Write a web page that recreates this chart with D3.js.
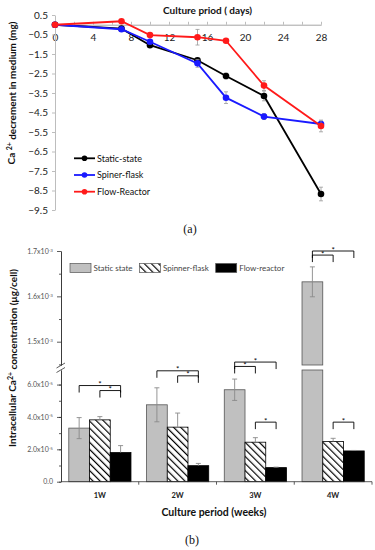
<!DOCTYPE html>
<html>
<head>
<meta charset="utf-8">
<script src="https://cdnjs.cloudflare.com/ajax/libs/d3/7.8.5/d3.min.js"></script>
<style>
  body { margin: 0; background: #fff; }
  svg { display: block; font-family: Lato, "Open Sans", sans-serif; }
</style>
</head>
<body>
<div id="chart"></div>
<script>
// ---- (a) Ca2+ decrement in medium ----
var days = [0, 7, 10, 15, 18, 22, 28];
var dayTicks = [0, 4, 8, 12, 16, 20, 24, 28];
var decTicks = [0.5, -0.5, -1.5, -2.5, -3.5, -4.5, -5.5, -6.5, -7.5, -8.5, -9.5];
var staticState = [0, -0.2, -1.05, -1.82, -2.63, -3.65, -8.68];
var staticStateErr = [0, 0.05, 0.1, 0.1, 0.15, 0.25, 0.35];
var spinerFlask = [0, -0.23, -0.87, -1.98, -3.74, -4.71, -5.09];
var spinerFlaskErr = [0, 0.05, 0.1, 0.2, 0.3, 0.15, 0.15];
var flowReactor = [0, 0.18, -0.53, -0.64, -0.82, -3.12, -5.19];
var flowReactorErr = [0, 0.05, 0.1, 0.4, 0.05, 0.25, 0.3];
var seriesNames = ["Static-state", "Spiner-flask", "Flow-Reactor"];
var seriesColors = ["#000000", "#1a1aff", "#ff1a1a"];

// ---- (b) intracellular Ca2+ ----
var weeks = ["1W", "2W", "3W", "4W"];
var groups = ["static", "spinner", "flow"];
var groupNames = ["Static state", "Spinner-flask", "Flow-reactor"];
var staticMean = [3.31e-5, 4.75e-5, 5.68e-5, 1.632e-3];
var staticErr = [0.65e-5, 1.05e-5, 0.66e-5, 0.033e-3];
var spinnerMean = [3.82e-5, 3.37e-5, 2.44e-5, 2.48e-5];
var spinnerErr = [0.2e-5, 0.87e-5, 0.28e-5, 0.2e-5];
var flowMean = [1.80e-5, 0.99e-5, 0.87e-5, 1.90e-5];
var flowErr = [0.43e-5, 0.14e-5, 0.03e-5, 0.03e-5];
var lowTicks = [0, 2e-5, 4e-5, 6e-5];
var lowTickLabels = ["0.0", "2.0x10", "4.0x10", "6.0x10"];
var highTicks = [1.5e-3, 1.6e-3, 1.7e-3];
var highTickLabels = ["1.5x10", "1.6x10", "1.7x10"];
// significance brackets: week, bars compared, bracket height
var brackets = [
  { week: "1W", from: "static", to: "flow", level: 5.94e-5, seg: "low" },
  { week: "1W", from: "spinner", to: "flow", level: 5.63e-5, seg: "low" },
  { week: "2W", from: "static", to: "flow", level: 6.85e-5, seg: "low" },
  { week: "2W", from: "spinner", to: "flow", level: 6.54e-5, seg: "low" },
  { week: "3W", from: "static", to: "flow", level: 7.39e-5, seg: "low" },
  { week: "3W", from: "static", to: "spinner", level: 7.12e-5, seg: "low" },
  { week: "3W", from: "spinner", to: "flow", level: 3.68e-5, seg: "low" },
  { week: "4W", from: "static", to: "flow", level: 1.7e-3, seg: "high" },
  { week: "4W", from: "static", to: "spinner", level: 1.691e-3, seg: "high" },
  { week: "4W", from: "spinner", to: "flow", level: 3.68e-5, seg: "low" }
];

var svg = d3.select("#chart")
  .append("svg")
  .attr("width", 375)
  .attr("height", 550);

var axisColor = "#bdbdbd";

// ================= chart (a) =================
var x = d3.scaleLinear().domain([0, 28]).range([55, 321]);
var y = d3.scaleLinear().domain([-9.5, 0.5]).range([210, 15]);

var ga = svg.append("g");

// minor ticks on top of x axis
ga.append("g")
  .attr("transform", "translate(0," + y(0) + ")")
  .call(d3.axisTop(x).tickValues(d3.range(0, 29, 2)).tickSize(3).tickSizeOuter(0).tickFormat(""))
  .call(function(g) { g.selectAll("line,path").attr("stroke", axisColor); });

var xAxisA = ga.append("g")
  .attr("transform", "translate(0," + y(0) + ")")
  .call(d3.axisBottom(x).tickValues(dayTicks).tickSize(0).tickPadding(9));
xAxisA.select(".domain").attr("stroke", axisColor);
xAxisA.selectAll("text").attr("font-size", 10).attr("fill", "#222").attr("font-family", "Lato");

var yAxisA = ga.append("g")
  .attr("transform", "translate(" + x(0) + ",0)")
  .call(d3.axisLeft(y).tickValues(decTicks).tickSize(3).tickSizeOuter(0).tickPadding(4).tickFormat(d3.format(".1f")));
yAxisA.selectAll("line,path").attr("stroke", axisColor);
yAxisA.selectAll("text").attr("font-size", 10).attr("fill", "#222").attr("font-family", "Lato");

ga.append("text")
  .attr("x", 163)
  .attr("y", 14)
  .attr("font-size", 10)
  .attr("font-weight", 700)
  .attr("fill", "#111")
  .text("Culture priod ( days)");

var yLabA = ga.append("text")
  .attr("transform", "translate(15," + 93 + ") rotate(-90)")
  .attr("text-anchor", "middle")
  .attr("font-size", 10)
  .attr("font-weight", 700)
  .attr("fill", "#111");
yLabA.append("tspan").text("Ca ");
yLabA.append("tspan").attr("dy", "-0.45em").attr("font-size", 7).text("2+");
yLabA.append("tspan").attr("dy", "0.45em").text(" decrement in medium  (mg)");

var seriesA = [
  { vals: staticState, err: staticStateErr },
  { vals: spinerFlask, err: spinerFlaskErr },
  { vals: flowReactor, err: flowReactorErr }
];

seriesA.forEach(function(s, si) {
  var pts = days.map(function(d, i) { return { d: d, v: s.vals[i], e: s.err[i] }; });
  var gs = ga.append("g");
  // error bars
  pts.forEach(function(p) {
    if (p.e <= 0) return;
    var cx = x(p.d);
    gs.append("path")
      .attr("d", "M" + cx + "," + y(p.v + p.e) + "V" + y(p.v - p.e) +
        "M" + (cx - 2) + "," + y(p.v + p.e) + "H" + (cx + 2) +
        "M" + (cx - 2) + "," + y(p.v - p.e) + "H" + (cx + 2))
      .attr("stroke", "#999")
      .attr("stroke-width", 0.8)
      .attr("fill", "none");
  });
  gs.append("path")
    .datum(pts)
    .attr("d", d3.line().x(function(p) { return x(p.d); }).y(function(p) { return y(p.v); }))
    .attr("fill", "none")
    .attr("stroke", seriesColors[si])
    .attr("stroke-width", 1.8);
  gs.selectAll("circle")
    .data(pts)
    .enter()
    .append("circle")
    .attr("cx", function(p) { return x(p.d); })
    .attr("cy", function(p) { return y(p.v); })
    .attr("r", 3.3)
    .attr("fill", seriesColors[si]);
});

// legend (a)
var legA = ga.append("g");
seriesNames.forEach(function(n, i) {
  var ly = 158.3 + i * 16.7;
  legA.append("line").attr("x1", 74).attr("x2", 95).attr("y1", ly).attr("y2", ly)
    .attr("stroke", seriesColors[i]).attr("stroke-width", 1.8);
  legA.append("circle").attr("cx", 84.5).attr("cy", ly).attr("r", 2.8).attr("fill", seriesColors[i]);
  legA.append("text").attr("x", 97).attr("y", ly + 3.2)
    .attr("font-size", 9).attr("fill", "#111").text(n);
});

ga.append("text")
  .attr("x", 190)
  .attr("y", 233)
  .attr("text-anchor", "middle")
  .attr("font-family", "'Liberation Serif', serif")
  .attr("font-size", 12)
  .attr("fill", "#111")
  .text("(a)");

// ================= chart (b) =================
var gb = svg.append("g");
var lowMax = 6.9e-5;
var yLow = d3.scaleLinear().domain([0, lowMax]).range([481.7, 370]);
var yHigh = d3.scaleLinear().domain([1.4486e-3, 1.7e-3]).range([365, 251]);

var x0 = d3.scaleBand().domain(weeks).range([61, 372]).paddingInner(0.2).paddingOuter(0.1);
var x1 = d3.scaleBand().domain(groups).range([0, x0.bandwidth()]);

var defs = svg.append("defs");
var pat = defs.append("pattern")
  .attr("id", "hatch")
  .attr("patternUnits", "userSpaceOnUse")
  .attr("width", 5)
  .attr("height", 5)
  .attr("patternTransform", "rotate(-45)");
pat.append("rect").attr("width", 5).attr("height", 5).attr("fill", "#fff");
pat.append("line").attr("x1", 0).attr("x2", 0).attr("y1", 0).attr("y2", 5)
  .attr("stroke", "#000").attr("stroke-width", 2.4);

var fills = { static: "#c0c0c0", spinner: "url(#hatch)", flow: "#000" };
var means = { static: staticMean, spinner: spinnerMean, flow: flowMean };
var errs = { static: staticErr, spinner: spinnerErr, flow: flowErr };

function yb(v) { return v > lowMax ? yHigh(v) : yLow(v); }

var barData = [];
weeks.forEach(function(w, wi) {
  groups.forEach(function(gname) {
    barData.push({ week: w, group: gname, v: means[gname][wi], e: errs[gname][wi] });
  });
});

var bars = gb.append("g");
barData.forEach(function(b) {
  var bx = x0(b.week) + x1(b.group);
  var bw = x1.bandwidth();
  if (b.v > lowMax) {
    bars.append("rect").attr("x", bx).attr("width", bw)
      .attr("y", yLow(lowMax)).attr("height", yLow(0) - yLow(lowMax))
      .attr("fill", fills[b.group]).attr("stroke", "#555").attr("stroke-width", 0.8);
    bars.append("rect").attr("x", bx).attr("width", bw)
      .attr("y", yHigh(b.v)).attr("height", yHigh(yHigh.domain()[0]) - yHigh(b.v))
      .attr("fill", fills[b.group]).attr("stroke", "#555").attr("stroke-width", 0.8);
  } else {
    bars.append("rect").attr("x", bx).attr("width", bw)
      .attr("y", yLow(b.v)).attr("height", yLow(0) - yLow(b.v))
      .attr("fill", fills[b.group])
      .attr("stroke", b.group == "static" ? "#555" : "#000")
      .attr("stroke-width", 0.8);
  }
  // error bar
  var cx = bx + bw / 2;
  var top = yb(b.v + b.e);
  var bot = b.group == "static" ? yb(b.v - b.e) : yb(b.v);
  var p = "M" + cx + "," + top + "V" + bot + "M" + (cx - 2.5) + "," + top + "H" + (cx + 2.5);
  if (b.group == "static") p += "M" + (cx - 2.5) + "," + bot + "H" + (cx + 2.5);
  bars.append("path").attr("d", p).attr("stroke", "#8a8a8a").attr("stroke-width", 0.9).attr("fill", "none");
});

// y axis (b), split in two segments
function tickText(labels, exp) {
  return function(g) {
    g.selectAll("line,path").attr("stroke", "#333").attr("stroke-width", 0.8);
    g.selectAll("text").each(function(d, i) {
      var t = d3.select(this);
      t.text(null).attr("font-size", 7).attr("fill", "#555").attr("font-family", "Lato");
      t.append("tspan").text(labels[i]);
      if (labels[i].indexOf("x10") > 0) {
        t.append("tspan").attr("dy", "-0.5em").attr("font-size", 4.5).text(exp);
      }
    });
  };
}
gb.append("g")
  .attr("transform", "translate(61,0)")
  .call(d3.axisLeft(yLow).tickValues(d3.range(0, 7e-5, 1e-5)).tickSize(2).tickSizeOuter(0).tickFormat(""))
  .call(function(g) { g.selectAll("line,path").attr("stroke", "#333").attr("stroke-width", 0.8); });
gb.append("g")
  .attr("transform", "translate(61,0)")
  .call(d3.axisLeft(yLow).tickValues(lowTicks).tickSize(4).tickSizeOuter(0).tickPadding(4))
  .call(tickText(lowTickLabels, "-5"));
gb.append("g")
  .attr("transform", "translate(61,0)")
  .call(d3.axisLeft(yHigh).tickValues([1.45e-3, 1.55e-3, 1.65e-3]).tickSize(2).tickSizeOuter(0).tickFormat(""))
  .call(function(g) { g.selectAll("line,path").attr("stroke", "#333").attr("stroke-width", 0.8); });
gb.append("g")
  .attr("transform", "translate(61,0)")
  .call(d3.axisLeft(yHigh).tickValues(highTicks).tickSize(4).tickSizeOuter(0).tickPadding(4))
  .call(tickText(highTickLabels, "-3"));

// break marks
gb.append("path")
  .attr("d", "M56.5,368L65,363M56.5,372.5L65,367.5")
  .attr("stroke", "#333").attr("stroke-width", 0.8);

// x axis (b)
gb.append("line")
  .attr("x1", 61).attr("x2", 372).attr("y1", yLow(0)).attr("y2", yLow(0))
  .attr("stroke", "#333").attr("stroke-width", 0.8);
gb.selectAll(".bndtick")
  .data(weeks)
  .enter()
  .append("line")
  .attr("x1", function(w) { return x0(w) + x0.bandwidth() / 2 + x0.step() / 2; })
  .attr("x2", function(w) { return x0(w) + x0.bandwidth() / 2 + x0.step() / 2; })
  .attr("y1", yLow(0)).attr("y2", yLow(0) + 3)
  .attr("stroke", "#333").attr("stroke-width", 0.8);
var xAxisB = gb.append("g")
  .attr("transform", "translate(0," + yLow(0) + ")")
  .call(d3.axisBottom(x0).tickSize(0).tickPadding(11));
xAxisB.select(".domain").remove();
xAxisB.selectAll("text").attr("font-size", 7.5).attr("font-weight", 700).attr("fill", "#222").attr("font-family", "Lato");

// brackets
brackets.forEach(function(b) {
  var xa = x0(b.week) + x1(b.from) + x1.bandwidth() / 2;
  var xb = x0(b.week) + x1(b.to) + x1.bandwidth() / 2;
  var yy = b.seg == "high" ? yHigh(b.level) : yLow(b.level);
  gb.append("path")
    .attr("d", "M" + xa + "," + (yy + 7) + "V" + yy + "H" + xb + "V" + (yy + 7))
    .attr("fill", "none").attr("stroke", "#000").attr("stroke-width", 0.9);
  gb.append("text")
    .attr("x", (xa + xb) / 2)
    .attr("y", yy + 1.5)
    .attr("text-anchor", "middle")
    .attr("font-size", 8)
    .attr("fill", "#000")
    .text("*");
});

// legend (b)
var legB = gb.append("g");
var legX = [70, 139.5, 215.7];
groups.forEach(function(gname, i) {
  legB.append("rect").attr("x", legX[i]).attr("y", 263.5).attr("width", 21).attr("height", 9)
    .attr("fill", fills[gname]).attr("stroke", "#555").attr("stroke-width", 0.7);
  legB.append("text").attr("x", legX[i] + 23.5).attr("y", 271)
    .attr("font-size", 8).attr("fill", "#444").text(groupNames[i]);
});

// axis titles (b)
gb.append("text")
  .attr("x", 214)
  .attr("y", 516)
  .attr("text-anchor", "middle")
  .attr("font-size", 10.5)
  .attr("font-weight", 700)
  .attr("fill", "#111")
  .text("Culture period (weeks)");

var yLabB = gb.append("text")
  .attr("transform", "translate(16,358) rotate(-90)")
  .attr("text-anchor", "middle")
  .attr("font-size", 10)
  .attr("font-weight", 700)
  .attr("fill", "#111");
yLabB.append("tspan").text("Intracellular Ca");
yLabB.append("tspan").attr("dy", "-0.45em").attr("font-size", 7).text("2+");
yLabB.append("tspan").attr("dy", "0.45em").text(" concentration (\u03bcg/cell)");

gb.append("text")
  .attr("x", 192)
  .attr("y", 544)
  .attr("text-anchor", "middle")
  .attr("font-family", "'Liberation Serif', serif")
  .attr("font-size", 12)
  .attr("fill", "#111")
  .text("(b)");
</script>
</body>
</html>
